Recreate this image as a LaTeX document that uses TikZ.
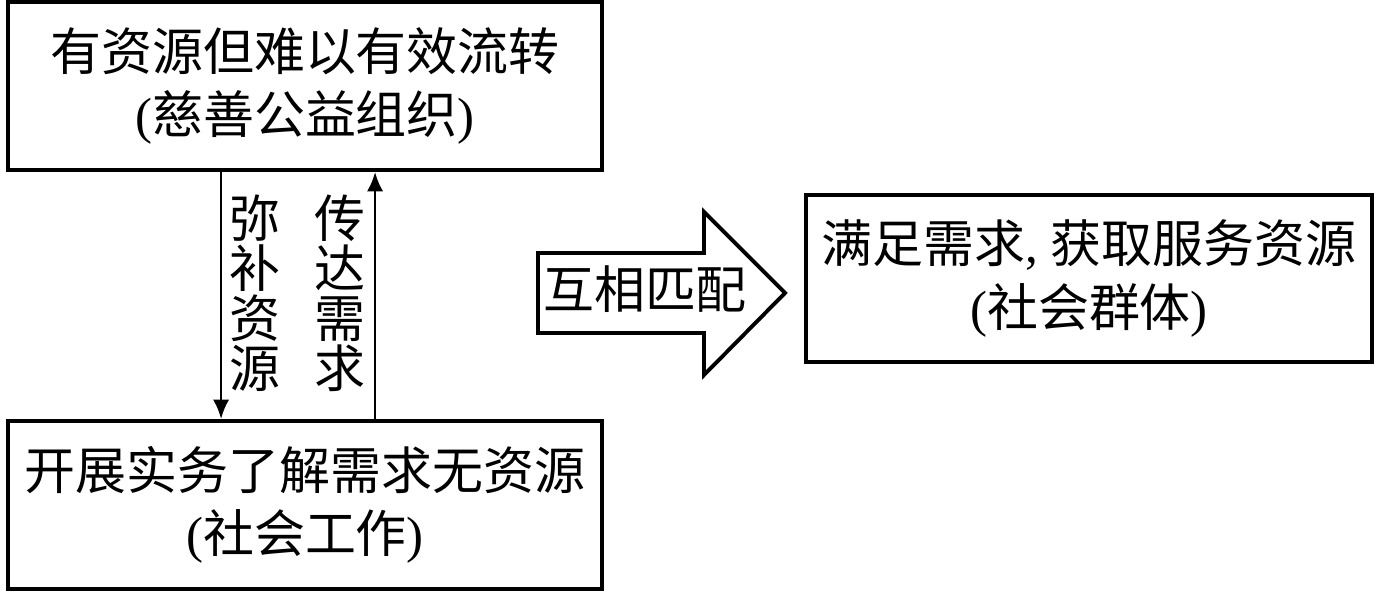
\documentclass[tikz,border=0pt]{standalone}
\usepackage{fontspec}
\setmainfont{Liberation Serif}
\newfontfamily\zh{Noto Sans CJK SC}
\usetikzlibrary{arrows.meta}
\tikzset{>={Latex[length=5.5pt,width=4.6pt]}}
\tikzset{
    blockbox/.style={draw=black, line width=1.1pt, align=center, inner sep=0pt,
        font=\fontsize{14.5}{18}\selectfont},
    sidelabel/.style={align=center, inner sep=0pt, font=\fontsize{14.5}{14.2}\zh}
}

\begin{document}
\begin{tikzpicture}
    \useasboundingbox (0,0) rectangle (13.78,5.92);

    \node[blockbox, minimum width=5.94cm, minimum height=1.68cm] (org) at (3.05,5.06)
        {{\zh 有资源但难以有效流转}\\({\zh 慈善公益组织})};
    \node[blockbox, minimum width=5.94cm, minimum height=1.68cm] (sw) at (3.05,0.87)
        {{\zh 开展实务了解需求无资源}\\({\zh 社会工作})};
    \node[blockbox, minimum width=5.66cm, minimum height=1.67cm] (grp) at (10.89,3.135)
        {{\zh 满足需求}, {\zh 获取服务资源}\\({\zh 社会群体})};

    \draw[->, line width=0.8pt] ([xshift=2.15cm]org.south west) -- ([xshift=2.15cm]sw.north west);
    \draw[->, line width=0.8pt] ([xshift=3.69cm]sw.north west) -- ([xshift=3.69cm]org.south west);

    \node[sidelabel] (give) at (2.55,2.99) {弥\\补\\资\\源};
    \node[sidelabel] (tell) at (3.40,2.99) {传\\达\\需\\求};

    % big arrow
    \draw[black, line width=1.1pt, line join=miter]
        (5.38,3.39) -- (7.04,3.39) -- (7.04,3.80) -- (7.85,2.99)
        -- (7.04,2.17) -- (7.04,2.59) -- (5.38,2.59) -- cycle;
    \node[inner sep=0pt, font=\fontsize{14.5}{18}\zh] (match) at (6.45,3.03) {互相匹配};

\end{tikzpicture}
\end{document}
